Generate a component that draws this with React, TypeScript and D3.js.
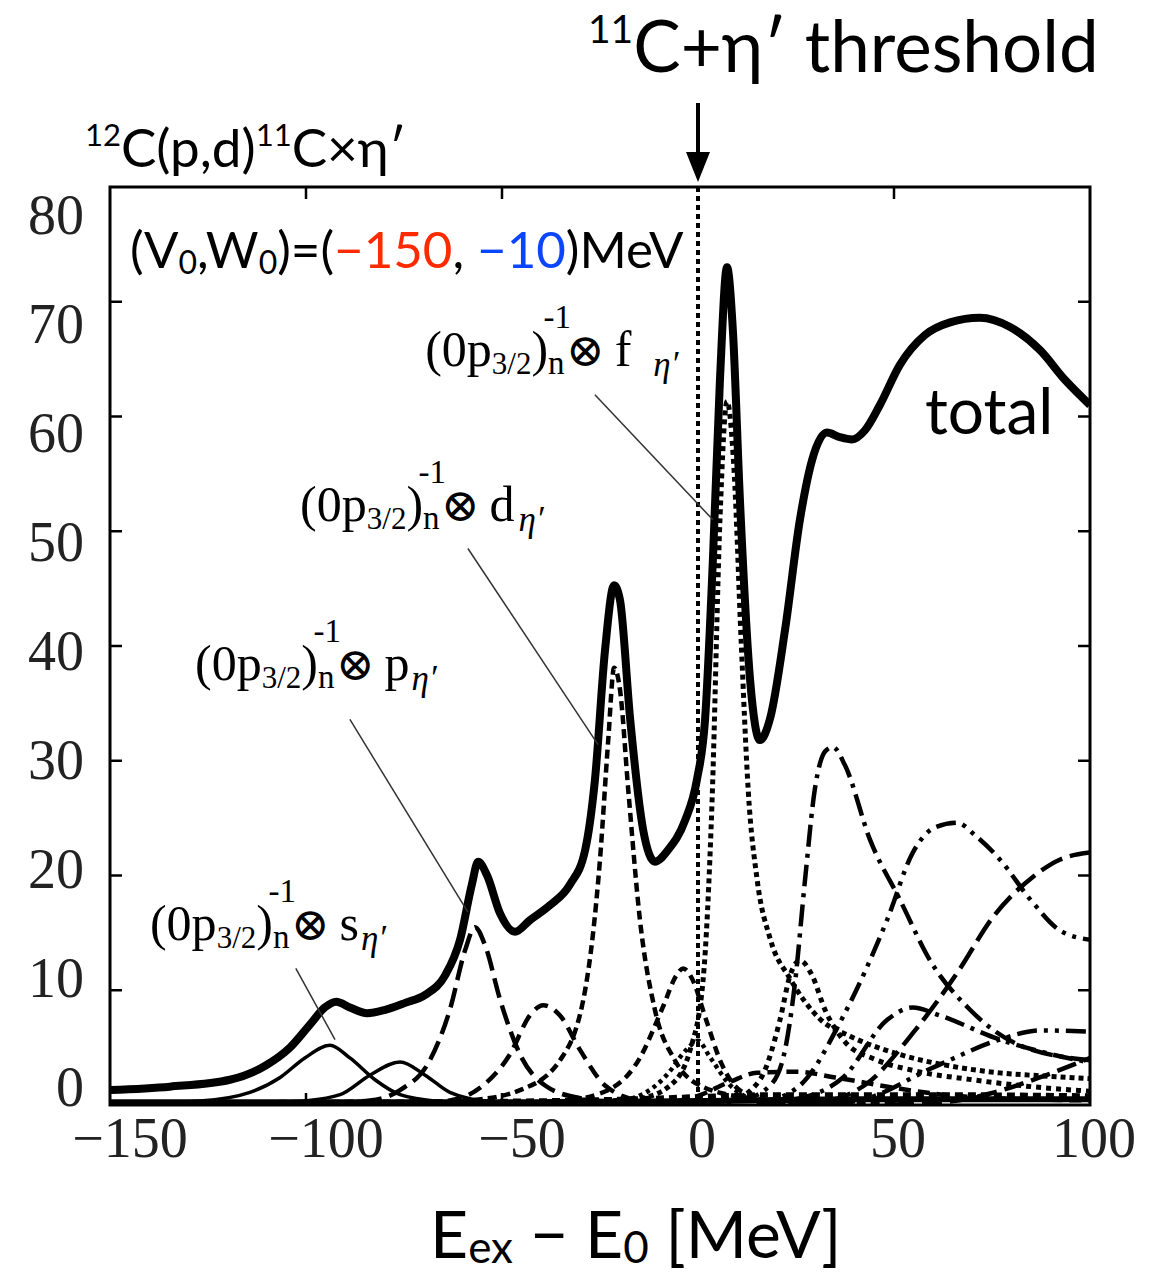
import React from 'react';
import * as d3 from 'd3';

// axis setup
const xTicks = [-150, -100, -50, 0, 50, 100];
const yTicks = [0, 10, 20, 30, 40, 50, 60, 70, 80];
const xTickLabels = ['\u2212150', '\u2212100', '\u221250', '0', '50', '100'];

type Pt = [number, number];

// total spectrum
const total: Pt[] = [
  [-150, 1.3], [-134.7, 1.6], [-119.4, 2.2], [-110.5, 3.4], [-104.1, 5.0], [-99.0, 7.0],
  [-95.2, 8.5], [-92.3, 9.0], [-88.8, 8.5], [-84.4, 8.0], [-79.8, 8.3], [-74.7, 8.9],
  [-69.6, 9.6], [-64.5, 11.3], [-60.7, 14.4], [-57.7, 19.2], [-56.1, 21.2], [-53.8, 20.0],
  [-50.5, 16.7], [-46.7, 15.1], [-42.9, 16.1], [-37.8, 17.4], [-32.7, 19.2], [-28.8, 22.2],
  [-26.3, 28.3], [-23.7, 39.7], [-21.4, 45.3], [-19.9, 44.0], [-17.3, 33.6], [-14.0, 24.0],
  [-11.0, 21.2], [-7.7, 22.2], [-3.3, 24.8], [-0.3, 28.3], [1.8, 33.6], [3.8, 47.5],
  [5.6, 63.2], [7.4, 73.0], [8.9, 67.5], [10.7, 52.7], [13.3, 37.0], [15.8, 31.8],
  [18.4, 33.7], [22.2, 41.4], [26.0, 51.0], [29.1, 56.2], [32.9, 58.6], [36.2, 58.2],
  [39.3, 58.0], [42.6, 58.8], [46.4, 61.0], [51.5, 64.5], [57.9, 67.1], [64.3, 68.2],
  [71.9, 68.6], [79.6, 67.8], [87.2, 65.8], [93.6, 63.2], [100, 61.0],
];

// (0p3/2)^-1 x s_eta'
const sState: Pt[] = [
  [-150, 0.1], [-127, 0.35], [-114.3, 1.1], [-106.6, 2.4], [-100.3, 4.1], [-93.9, 5.2],
  [-88.8, 4.1], [-82.4, 2.2], [-76, 0.9], [-65.8, 0.3], [-50, 0.05],
];
const sState2: Pt[] = [
  [-110, 0.1], [-101.5, 0.3], [-91.3, 0.9], [-83.7, 2.6], [-76, 3.75], [-69.6, 2.6],
  [-63.3, 1.1], [-53.1, 0.3], [-40, 0.05],
];
// (0p3/2)^-1 x p_eta'
const pState: Pt[] = [
  [-100, 0.1], [-83.7, 0.4], [-76, 1.3], [-68.4, 3.9], [-63.3, 8.3], [-59.4, 13.5],
  [-56.9, 15.5], [-54.3, 13.9], [-50.5, 9.2], [-45.4, 4.4], [-39.0, 1.7], [-30.1, 0.6], [-15, 0.1],
];
const pState2: Pt[] = [
  [-75, 0.1], [-63.3, 0.4], [-55.6, 1.5], [-48, 4.4], [-42.9, 7.8], [-39.5, 8.7],
  [-35.2, 7.8], [-30.1, 4.8], [-23.7, 1.7], [-14.8, 0.4], [0, 0.05],
];
// (0p3/2)^-1 x d_eta'
const dState: Pt[] = [
  [-75, 0.1], [-58.2, 0.4], [-45.4, 1.3], [-35.2, 3.9], [-28.8, 10.0], [-25.0, 21.4],
  [-22.9, 31.8], [-21.4, 38.1], [-19.9, 36.2], [-17.8, 27.5], [-14.8, 16.1], [-11.0, 8.3],
  [-5.9, 3.9], [0.5, 1.7], [13.3, 0.6], [26, 0.3], [50, 0.1],
];
const dState2: Pt[] = [
  [-40, 0.1], [-25, 1.0], [-15, 4.0], [-9, 8.5], [-5.5, 11.3], [-3.8, 11.9], [-1.5, 11.0],
  [2, 7.5], [6, 3.6], [11, 1.2], [20, 0.3], [35, 0.05],
];
// (0p3/2)^-1 x f_eta'
const fState: Pt[] = [
  [-40, 0.1], [-14.8, 0.6], [-7.1, 1.7], [-2.0, 4.8], [1.3, 10.9], [3.6, 26.6], [5.6, 51],
  [7.4, 61.3], [9.2, 55.3], [11.0, 40.5], [12.8, 27.5], [15.1, 19.6], [18.4, 14.5],
  [23.5, 11.0], [31.1, 7.5], [38.8, 6.0], [51.5, 4.4], [64.3, 3.4], [77.0, 2.8], [89.8, 2.5], [100, 2.3],
];
const dotted2: Pt[] = [
  [-10, 0.1], [8.2, 0.4], [15.8, 2.2], [20.9, 7.4], [23.5, 11.3], [26, 12.6], [29.1, 11.3],
  [32.4, 8.3], [37.5, 5.5], [45, 4.0], [55, 3.0], [70, 2.2], [85, 1.6], [100, 1.2],
];
const dotted3: Pt[] = [
  [-25, 0.1], [-15, 0.8], [-8, 2.6], [-3, 4.8], [0, 5.6], [3, 4.2], [8, 1.8], [15, 0.4], [25, 0.05],
];
// higher partial waves
const dashDot1: Pt[] = [
  [0, 0.1], [10.7, 0.4], [18.4, 1.7], [22.2, 4.8], [24.7, 10.5], [27.3, 19.6], [29.8, 27.5],
  [32.4, 30.8], [34.4, 31.2], [37.5, 29.6], [43.9, 23.1], [51.5, 17.9], [59.2, 12.6],
  [69.4, 8.3], [82.1, 5.2], [100, 3.9],
];
const dashDotDot1: Pt[] = [
  [15, 0.1], [26, 1.7], [37, 7.7], [48.2, 16.1], [54.8, 22.0], [60.5, 24.2], [66.1, 24.6],
  [70.7, 23.5], [77.0, 21.4], [84.8, 17.9], [92.4, 15.2], [100, 14.4],
];
const longDash1: Pt[] = [
  [25, 0.1], [33.7, 0.4], [43.2, 1.9], [54.9, 6.3], [66.1, 11.5], [75.3, 16.4], [85.5, 19.9],
  [92.4, 21.4], [100, 22.0],
];
const dashDot2: Pt[] = [
  [15, 0.1], [23.5, 0.4], [37, 2.4], [48.2, 7.4], [54.8, 8.5], [61.7, 7.8], [77, 5.7],
  [88, 4.6], [100, 3.7],
];
const dashDotDot2: Pt[] = [
  [35, 0.1], [41.3, 0.4], [60.2, 3.3], [77, 5.7], [87.2, 6.5], [100, 6.4],
];
const longDash2: Pt[] = [
  [50, 0.05], [64.3, 0.3], [74.5, 1.0], [87.2, 2.4], [100, 4.1],
];
const smallDash: Pt[] = [
  [-10, 0.1], [0, 0.8], [8, 2.0], [15, 2.8], [25, 2.9], [35, 2.4], [50, 1.5], [60, 1.0], [75, 0.6], [100, 0.4],
];
const bottomA: Pt[] = [[-150, 0.2], [-60, 0.3], [-20, 0.5], [20, 0.9], [60, 0.9], [100, 0.8]];
const bottomB: Pt[] = [[-150, 0.25], [-40, 0.25], [0, 0.35], [40, 0.5], [100, 0.5]];

const series = [
  { data: bottomA, width: 5, dash: '8,5' },
  { data: bottomB, width: 6, dash: '' },
  { data: smallDash, width: 4.5, dash: '12,7' },
  { data: longDash2, width: 4.5, dash: '20,8' },
  { data: dashDotDot2, width: 4.5, dash: '20,7,4,7,4,7' },
  { data: dashDot2, width: 4.5, dash: '20,7,4,7' },
  { data: longDash1, width: 4.5, dash: '24,8' },
  { data: dashDotDot1, width: 4.5, dash: '20,7,4,7,4,7' },
  { data: dashDot1, width: 4.5, dash: '22,7,4,7' },
  { data: dotted3, width: 4.5, dash: '4,4' },
  { data: dotted2, width: 5, dash: '5,5' },
  { data: dState2, width: 4.5, dash: '9,6' },
  { data: pState2, width: 4.5, dash: '14,8' },
  { data: pState, width: 4.5, dash: '20,8' },
  { data: sState2, width: 3.5, dash: '' },
  { data: sState, width: 3.5, dash: '' },
  { data: dState, width: 4.5, dash: '9,5' },
  { data: fState, width: 5, dash: '5,4' },
  { data: total, width: 8, dash: '' },
];

// annotations: label start [E, value], leader from/to
const annotations = [
  { letter: 'f', at: [-69.6, 64.4], from: [-26.3, 61.9], to: [3.8, 51.0], gap: 22 },
  { letter: 'd', at: [-101.5, 50.9], from: [-58.7, 48.5], to: [-25.5, 31.4], gap: 4 },
  { letter: 'p', at: [-128.3, 37.0], from: [-88.8, 33.6], to: [-58.7, 16.8], gap: 2 },
  { letter: 's', at: [-139.8, 14.4], from: [-102.6, 11.9], to: [-92.6, 5.7], gap: 2 },
];

const serif = '"Liberation Serif", "DejaVu Serif", serif';
const sans = 'Lato, "Open Sans", sans-serif';

export default function App() {
  const left = 110, right = 1090, top = 187, bottom = 1105;
  const x = d3.scaleLinear().domain([-150, 100]).range([left, right]);
  const y = d3.scaleLinear().domain([0, 80]).range([bottom, top]);
  // the figure's y labels sit on a slightly different grid than the ticks
  const yLab = d3.scaleLinear().domain([0, 80]).range([1087, 215]);

  const line = d3.line<Pt>()
    .x(d => x(d[0]))
    .y(d => y(d[1]))
    .curve(d3.curveMonotoneX);

  const x0 = x(0);

  return (
    <svg width={1165} height={1274} style={{ position: 'absolute', left: 0, top: 0, background: '#fff' }}>
      <defs>
        <clipPath id="plot">
          <rect x={left} y={top} width={right - left} height={bottom - top} />
        </clipPath>
      </defs>

      {/* threshold header */}
      <text x={588} y={72} fontFamily={sans} fontSize={71} fill="#000">
        <tspan fontSize={39} dy={-29}>11</tspan>
        <tspan dy={29}>C+η′ threshold</tspan>
      </text>
      <line x1={x0} x2={x0} y1={103} y2={156} stroke="#000" strokeWidth={4} />
      <polygon points={`${x0 - 12},${152} ${x0 + 12},${152} ${x0},${182}`} fill="#000" />

      <text x={85} y={167} fontFamily={sans} fontSize={53} fill="#000">
        <tspan fontSize={31} dy={-21}>12</tspan>
        <tspan dy={21}>C(p,d)</tspan>
        <tspan fontSize={31} dy={-21}>11</tspan>
        <tspan dy={21}>C×η′</tspan>
      </text>

      {/* curves */}
      <g clipPath="url(#plot)" fill="none" stroke="#000" strokeLinejoin="round">
        {series.map((s, i) => (
          <path key={i} d={line(s.data) || ''} strokeWidth={s.width}
            strokeDasharray={s.dash || undefined} />
        ))}
      </g>

      {/* threshold line */}
      <line x1={x0} x2={x0} y1={top} y2={bottom} stroke="#000" strokeWidth={4} strokeDasharray="5,4" />

      {/* frame and ticks */}
      <rect x={left} y={top} width={right - left} height={bottom - top} fill="none" stroke="#000" strokeWidth={3} />
      {yTicks.filter(v => v > 0 && v < 80).map(v => (
        <g key={v}>
          <line x1={left} x2={left + 12} y1={y(v)} y2={y(v)} stroke="#000" strokeWidth={2.5} />
          <line x1={right} x2={right - 12} y1={y(v)} y2={y(v)} stroke="#000" strokeWidth={2.5} />
        </g>
      ))}
      {xTicks.filter(v => v > -150 && v < 100 && v !== 0).map(v => (
        <g key={v}>
          <line x1={x(v)} x2={x(v)} y1={top} y2={top + 12} stroke="#000" strokeWidth={2.5} />
          <line x1={x(v)} x2={x(v)} y1={bottom} y2={bottom - 12} stroke="#000" strokeWidth={2.5} />
        </g>
      ))}

      {/* tick labels */}
      {yTicks.map(v => (
        <text key={v} x={84} y={yLab(v)} dominantBaseline="central" textAnchor="end"
          fontFamily={serif} fontSize={56} fill="#222">{v}</text>
      ))}
      {xTicks.map((v, i) => (
        <text key={v} x={x(v) + (v < 0 ? 20 : 4)} y={1157} textAnchor="middle"
          fontFamily={serif} fontSize={56} fill="#222">{xTickLabels[i]}</text>
      ))}

      {/* potential parameters */}
      <text x={130} y={268} fontFamily={sans} fontSize={51} fill="#000">
        <tspan>(V</tspan><tspan fontSize={32} dy={6}>0</tspan>
        <tspan dy={-6}>,W</tspan><tspan fontSize={32} dy={6}>0</tspan>
        <tspan dy={-6}>)=(</tspan>
        <tspan fill="#ff2a00">−150</tspan>
        <tspan>, </tspan>
        <tspan fill="#0a46ff">−10</tspan>
        <tspan>)MeV</tspan>
      </text>

      <text x={925} y={434} fontFamily={sans} fontSize={64} fill="#000">total</text>

      {/* component labels */}
      {annotations.map(a => (
        <g key={a.letter}>
          <line x1={x(a.from[0])} y1={y(a.from[1])} x2={x(a.to[0])} y2={y(a.to[1])}
            stroke="#333" strokeWidth={1.5} />
          <text x={x(a.at[0])} y={y(a.at[1])} fontFamily={serif} fontSize={50} fill="#000">
            <tspan>(0p</tspan>
            <tspan fontSize={31} dy={8}>3/2</tspan>
            <tspan dy={-8}>)</tspan>
            <tspan fontSize={33} dy={8}>n</tspan>
            <tspan fontSize={33} dx={-21} dy={-46}>-1</tspan>
            <tspan dx={-5} dy={38} fontFamily='"DejaVu Serif", serif' fontSize={46}>⊗</tspan>
            <tspan dx={10}>{a.letter}</tspan>
            <tspan fontSize={35} fontStyle="italic" dx={a.gap} dy={10}>η′</tspan>
          </text>
        </g>
      ))}

      {/* x axis title */}
      <text x={430} y={1258} fontFamily={sans} fontSize={66} fill="#000">
        <tspan>E</tspan><tspan fontSize={44} dy={5}>ex</tspan>
        <tspan dy={-5}> − E</tspan><tspan fontSize={44} dy={5}>0</tspan>
        <tspan dy={-5}> [MeV]</tspan>
      </text>
    </svg>
  );
}
